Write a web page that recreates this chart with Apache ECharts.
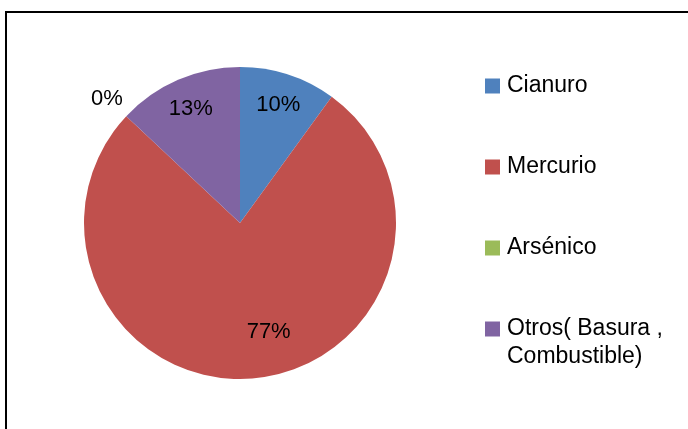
<!DOCTYPE html>
<html>
<head>
<meta charset="utf-8">
<script src="https://cdn.jsdelivr.net/npm/echarts@6/dist/echarts.min.js"></script>
<style>
  html, body { margin: 0; padding: 0; background: #fff; }
  #chart { width: 688px; height: 429px; }
</style>
</head>
<body>
<div id="chart"></div>
<script>
// datos del grafico
var categorias = ['Cianuro', 'Mercurio', 'Arsénico', 'Otros( Basura , Combustible)'];
var porcentajes = [10, 77, 0, 13];
var colores = ['#4F81BD', '#C0504D', '#9BBB59', '#8064A2'];

var myChart = echarts.init(document.getElementById('chart'));

var datos = [];
var etiquetas = [];
for (var i = 0; i < categorias.length; i++) {
    datos.push({ name: categorias[i], value: porcentajes[i], itemStyle: { color: colores[i] } });
    var et = { name: categorias[i], value: porcentajes[i] };
    if (porcentajes[i] === 0) {
        // el 0% va fuera del circulo
        et.label = { position: 'outside', formatter: '{c}%\n ', lineHeight: 8 };
        et.labelLine = { show: false, length: 20, length2: -16 };
    } else if (porcentajes[i] > 50) {
        // la etiqueta grande va un poco mas arriba y a la derecha
        et.label = { padding: [0, 0, 0, 34], formatter: '{c}%\n ', lineHeight: 30 };
    }
    etiquetas.push(et);
}

var legendData = categorias.map(function (c, i) {
    return { name: c, itemStyle: { color: colores[i] } };
});

var option = {
    animation: false,
    graphic: [{
        type: 'rect',
        shape: { x: 6, y: 12, width: 720, height: 500 },
        style: { fill: 'none', stroke: '#000', lineWidth: 2 }
    }, {
        // segunda linea de la leyenda "Otros"
        type: 'text',
        left: 507,
        top: 345,
        style: {
            text: 'Combustible)',
            fontFamily: 'Liberation Sans',
            fontSize: 23,
            fill: '#000'
        }
    }],
    legend: {
        orient: 'vertical',
        left: 485,
        top: 70,
        padding: 0,
        itemWidth: 15,
        itemHeight: 15,
        itemGap: 49,
        icon: 'rect',
        data: legendData,
        formatter: function (name) {
            return name.replace(' Combustible)', '');
        },
        textStyle: {
            fontFamily: 'Liberation Sans',
            fontSize: 23,
            lineHeight: 32,
            color: '#000',
            padding: [0, 0, 0, 2]
        }
    },
    series: [{
        type: 'pie',
        center: [240, 223],
        radius: [0, 156],
        startAngle: 90,
        clockwise: true,
        silent: true,
        label: { show: false },
        labelLine: { show: false },
        data: datos
    }, {
        type: 'pie',
        center: [240, 223],
        radius: [86, 156],
        startAngle: 90,
        clockwise: true,
        silent: true,
        itemStyle: { color: 'rgba(0,0,0,0)' },
        label: {
            show: true,
            position: 'inside',
            formatter: '{c}%',
            fontFamily: 'Liberation Sans',
            fontSize: 22,
            color: '#000'
        },
        labelLine: { show: false },
        data: etiquetas
    }]
};
myChart.setOption(option);
</script>
</body>
</html>
